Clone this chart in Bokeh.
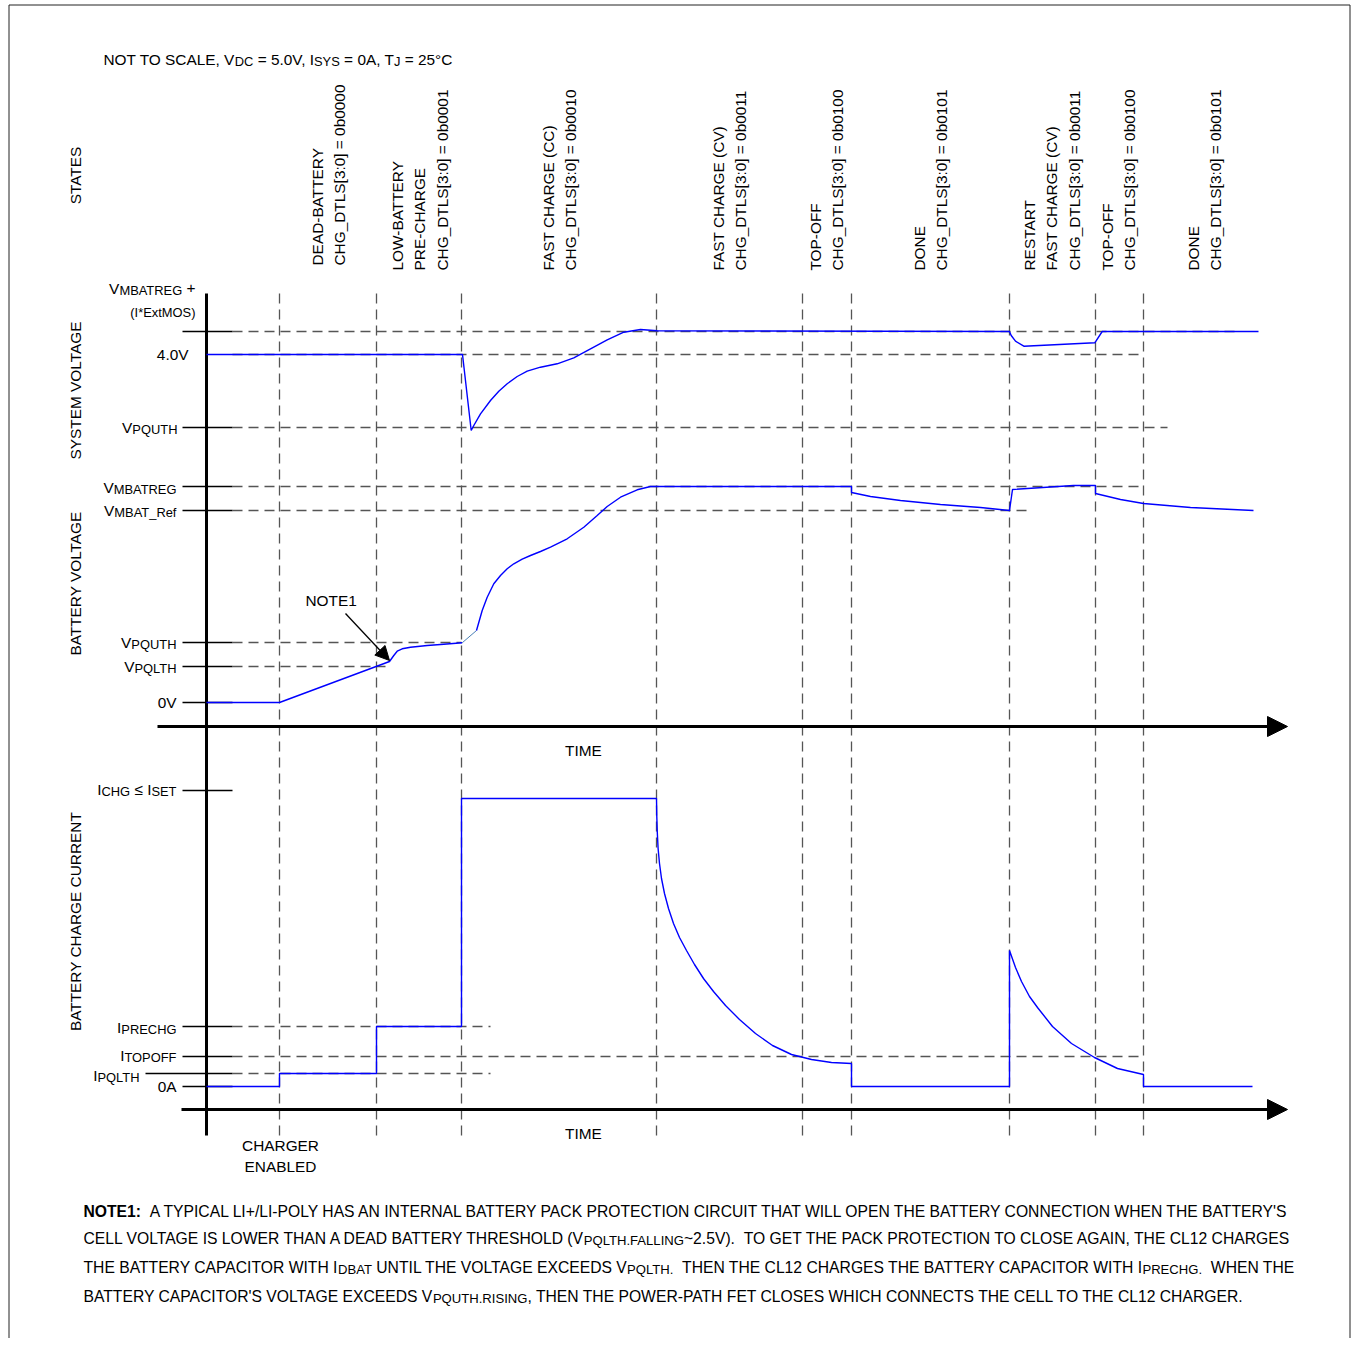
import math
from bokeh.plotting import figure
from bokeh.models import Range1d, Arrow, NormalHead, ColumnDataSource
from bokeh.core.properties import value
from bokeh.embed import file_html
from bokeh.resources import INLINE

FONT = "Liberation Sans"
MAIN = 15.4
SUB = 12.9
NOTE_MAIN = 15.7
NOTE_SUB = 13.1

# ---------------- data (schematic units, NOT TO SCALE) ----------------
# time of each state change (t = 0 on the vertical axis)
state_times = [73, 170, 255, 450, 596, 645, 803, 889, 937]

# voltage levels (0V = 0)
v_mbatreg_plus = 371
v_4v0 = 348
v_pquth_sys = 275
v_mbatreg = 216
v_mbat_ref = 192
v_pquth = 60
v_pqlth = 36
v_zero = 0

# current levels (0A = 0)
i_chg_tick = 296
i_chg = 288
i_prechg = 60
i_topoff = 30
i_pqlth = 13
i_zero = 0

# system voltage trace
sys_t = [0, 256, 264.7, 267.3, 274, 284, 292.3, 300.7, 310.7, 320.7, 334, 350.7, 367.3, 384,
         400.7, 417.3, 434, 450.7, 803, 804.7, 809, 817.3, 888.3, 895.7, 1052]
sys_v = [348, 348, 272, 277, 288.7, 302, 311.3, 318.7, 326, 331.3, 335.3, 338.7, 344.7, 353.7,
         362.7, 370.3, 373, 371.7, 371, 367, 361.3, 356.3, 359.7, 371, 371]

# battery voltage trace (before power-path closes)
bat_pre_t = [0, 73, 183, 187.3, 190.7, 195.7, 204, 220.7, 237.3, 255.7]
bat_pre_v = [0, 0, 41, 47, 51.3, 53.7, 55.3, 57, 58.3, 59.7]
# power-path closing link
bat_link_t = [255.7, 270]
bat_link_v = [59.7, 72]
# battery voltage trace (fast charge onwards)
bat_t = [270, 275.7, 280.7, 287.3, 294, 300.7, 307.3, 315.7, 324, 334, 344, 360.7, 377.3, 390.7,
         400.7, 414, 430.7, 444, 450, 645, 645, 664, 694, 734, 774, 803, 806, 867, 889, 889,
         914, 937, 984, 1047]
bat_v = [72, 92, 105.3, 118.7, 127, 133.7, 138.7, 143.3, 147, 151, 155.3, 163.7, 175.3, 187,
         196, 205.3, 212.7, 216, 216, 216, 210, 206, 202, 198, 195, 192, 213, 217, 217, 209,
         203, 199, 195, 192]

# battery charge current trace
chg_t = [0, 73, 73, 170, 170, 255, 255, 450, 450.3, 450.8, 451.6, 453, 455, 458, 462, 467, 473,
         480, 488, 497, 507, 519, 533, 549, 566, 585, 605, 625, 645, 645, 803, 803, 809, 815, 823,
         831, 846, 865, 888, 911, 937, 937, 1046]
chg_a = [0, 0, 13, 13, 60, 60, 288, 288, 270, 254, 238, 223, 208, 193, 178, 163, 149,
         136, 122, 108, 95, 81, 67, 53, 41, 32, 27, 24, 23, 0, 0, 136, 119, 105, 90,
         79, 60, 43, 29, 18, 12, 0, 0]

# dashed reference lines: (level, end time)
volt_dash_levels = [v_mbatreg_plus, v_4v0, v_pquth_sys, v_mbatreg, v_mbat_ref, v_pquth, v_pqlth]
volt_dash_ends = [1032, 934, 961, 936, 821, 255, 179]
volt_tick_levels = [v_mbatreg_plus, v_pquth_sys, v_mbatreg, v_mbat_ref, v_pquth, v_pqlth, v_zero]
amp_dash_levels = [i_prechg, i_topoff, i_pqlth]
amp_dash_ends = [284, 937, 284]
amp_tick_levels = [i_chg_tick, i_prechg, i_topoff, i_zero]

state_labels = [
    ["DEAD-BATTERY", "CHG_DTLS[3:0] = 0b0000"],
    ["LOW-BATTERY", "PRE-CHARGE", "CHG_DTLS[3:0] = 0b0001"],
    ["FAST CHARGE (CC)", "CHG_DTLS[3:0] = 0b0010"],
    ["FAST CHARGE (CV)", "CHG_DTLS[3:0] = 0b0011"],
    ["TOP-OFF", "CHG_DTLS[3:0] = 0b0100"],
    ["DONE", "CHG_DTLS[3:0] = 0b0101"],
    ["RESTART", "FAST CHARGE (CV)", "CHG_DTLS[3:0] = 0b0011"],
    ["TOP-OFF", "CHG_DTLS[3:0] = 0b0100"],
    ["DONE", "CHG_DTLS[3:0] = 0b0101"],
]

# ---------------- layout helpers ----------------
W, H = 1352, 1338
AXIS_X = 206              # page x of the vertical axis
OFF = -0.4                # text anchor offset (page px) relative to the cap centre


def Y(py):
    return H - py         # page y -> default y range


AW = {' ': 278, '!': 278, '"': 355, '#': 556, '$': 556, '%': 889, '&': 667, "'": 191, '(': 333,
      ')': 333, '*': 389, '+': 584, ',': 278, '-': 333, '.': 278, '/': 278, ':': 278, ';': 278,
      '<': 584, '=': 584, '>': 584, '?': 556, '@': 1015, '[': 278, '\\': 278, ']': 278, '^': 469,
      '_': 556, '`': 333, '~': 584, '°': 400, '≤': 549,
      'A': 667, 'B': 667, 'C': 722, 'D': 722, 'E': 667, 'F': 611, 'G': 778, 'H': 722, 'I': 278,
      'J': 500, 'K': 667, 'L': 556, 'M': 833, 'N': 722, 'O': 778, 'P': 667, 'Q': 778, 'R': 722,
      'S': 667, 'T': 611, 'U': 722, 'V': 667, 'W': 944, 'X': 667, 'Y': 667, 'Z': 611,
      'a': 556, 'b': 556, 'c': 500, 'd': 556, 'e': 556, 'f': 278, 'g': 556, 'h': 556, 'i': 222,
      'j': 222, 'k': 500, 'l': 222, 'm': 833, 'n': 556, 'o': 556, 'p': 556, 'q': 556, 'r': 333,
      's': 500, 't': 278, 'u': 556, 'v': 500, 'w': 722, 'x': 500, 'y': 500, 'z': 500}
for d in "0123456789":
    AW[d] = 556
AWB = dict(AW)
AWB.update({':': 333, 'T': 611, 'E': 667, 'N': 722, 'O': 778, '1': 556})

KERN = {'AT': -74, 'AV': -74, 'AW': -37, 'AY': -74, 'Av': -18, 'Aw': -18, 'Ay': -18,
        'F,': -111, 'F.': -111, 'FA': -55, 'LT': -74, 'LV': -74, 'LW': -74, 'LY': -74,
        'Ly': -37, 'P,': -129, 'P.': -129, 'PA': -74, 'RT': -18, 'RV': -18, 'RW': -18,
        'RY': -18, 'T,': -111, 'T-': -55, 'T.': -111, 'T:': -111, 'TA': -74, 'TO': -18,
        'V,': -92, 'V-': -55, 'V.': -92, 'VA': -74, 'W,': -55, 'W.': -55, 'WA': -37,
        'Y,': -129, 'Y-': -92, 'Y.': -129, 'YA': -74, '11': -74, ' A': -55, 'A ': -55,
        ' T': -18, ' Y': -18, 'L ': -37}


def tw(s, size, bold=False):
    tab = AWB if bold else AW
    w = sum(tab.get(c, 556) for c in s)
    w += sum(KERN.get(s[i:i + 2], 0) for i in range(len(s) - 1))
    return w * size / 1000.0


TEXTS = []   # (x, y, text, size, style, angle, align)


def add_text(x, y, text, size=MAIN, style="normal", angle=0.0, align="left"):
    TEXTS.append((x, y, text, size, style, angle, align))


def rich(x, py, parts, align="left", drop=2.6, main=MAIN, sub=SUB):
    """parts: list of (text, kind) kind n=normal, s=subscript, b=bold"""
    def sz(k):
        return sub if k == "s" else main
    widths = [tw(t, sz(k), k == "b") for t, k in parts]
    total = sum(widths)
    cx = x if align == "left" else (x - total if align == "right" else x - total / 2)
    for (t, k), w in zip(parts, widths):
        s = t.strip()
        lead = len(t) - len(t.lstrip())
        if s:
            add_text(cx + tw(t[:lead], sz(k), k == "b"),
                     Y(py + OFF + (drop if k == "s" else 0)), s,
                     size=sz(k), style="bold" if k == "b" else "normal")
        cx += w


# ---------------- figure ----------------
p = figure(width=W, height=H, x_range=Range1d(0, W), y_range=Range1d(0, H),
           output_backend="svg", toolbar_location=None, x_axis_type=None, y_axis_type=None,
           min_border=0)
p.min_border_left = p.min_border_right = p.min_border_top = p.min_border_bottom = 0
p.outline_line_color = None
p.background_fill_color = "white"
p.border_fill_color = "white"
p.grid.visible = False
p.extra_x_ranges = {"t": Range1d(-AXIS_X, W - AXIS_X)}
p.extra_y_ranges = {"volt": Range1d(-(H - 702), 702),
                    "amp": Range1d(-(H - 1086), 1086)}

# page border
p.multi_line(xs=[[8.5, 8.5, 1349.5, 1349.5]], ys=[[Y(1338), Y(4.5), Y(4.5), Y(1338)]],
             line_color="#222222", line_width=1)

DASH_C = "#555555"
DASH = "10 6"
TICK_L, TICK_R = -24, 26

# vertical dashed state lines
p.segment(x0=state_times, x1=state_times, y0=[Y(293)] * len(state_times),
          y1=[Y(1135)] * len(state_times), x_range_name="t",
          line_color=DASH_C, line_width=1.3, line_dash=DASH)

# horizontal dashed level lines
p.segment(x0=[TICK_R] * len(volt_dash_levels), x1=volt_dash_ends, y0=volt_dash_levels,
          y1=volt_dash_levels, x_range_name="t", y_range_name="volt",
          line_color=DASH_C, line_width=1.3, line_dash=DASH)
p.segment(x0=[TICK_R] * len(amp_dash_levels), x1=amp_dash_ends, y0=amp_dash_levels,
          y1=amp_dash_levels, x_range_name="t", y_range_name="amp",
          line_color=DASH_C, line_width=1.3, line_dash=DASH)

# level ticks
p.segment(x0=[TICK_L] * len(volt_tick_levels), x1=[TICK_R] * len(volt_tick_levels),
          y0=volt_tick_levels, y1=volt_tick_levels, x_range_name="t", y_range_name="volt",
          line_color="black", line_width=1.5)
p.segment(x0=[TICK_L] * len(amp_tick_levels), x1=[TICK_R] * len(amp_tick_levels),
          y0=amp_tick_levels, y1=amp_tick_levels, x_range_name="t", y_range_name="amp",
          line_color="black", line_width=1.5)
p.segment(x0=[-61], x1=[TICK_R], y0=[i_pqlth], y1=[i_pqlth], x_range_name="t",
          y_range_name="amp", line_color="black", line_width=1.5)

# vertical axis
p.segment(x0=[0], x1=[0], y0=[Y(293)], y1=[Y(1135)], x_range_name="t",
          line_color="black", line_width=3)

# time axes with arrows
p.add_layout(Arrow(x_start=-49, y_start=-24, x_end=1081, y_end=-24, x_range_name="t",
                   y_range_name="volt", line_width=3, line_color="black",
                   end=NormalHead(size=20, fill_color="black", line_color="black", line_width=1)))
p.add_layout(Arrow(x_start=-25, y_start=-23, x_end=1081, y_end=-23, x_range_name="t",
                   y_range_name="amp", line_width=3, line_color="black",
                   end=NormalHead(size=20, fill_color="black", line_color="black", line_width=1)))

# traces
BLUE = "#0000ff"
p.line(sys_t, sys_v, x_range_name="t", y_range_name="volt", line_color=BLUE, line_width=1.4)
p.line(bat_pre_t, bat_pre_v, x_range_name="t", y_range_name="volt", line_color=BLUE,
       line_width=1.4)
p.line(bat_link_t, bat_link_v, x_range_name="t", y_range_name="volt", line_color="#4a7fb5",
       line_width=1.0)
p.line(bat_t, bat_v, x_range_name="t", y_range_name="volt", line_color=BLUE, line_width=1.4)
p.line(chg_t, chg_a, x_range_name="t", y_range_name="amp", line_color=BLUE, line_width=1.4)

# NOTE1 arrow
p.add_layout(Arrow(x_start=139, y_start=89, x_end=183, y_end=42, x_range_name="t",
                   y_range_name="volt", line_width=1.3, line_color="black",
                   end=NormalHead(size=14, fill_color="black", line_color="black", line_width=1)))

# ---------------- texts (page positions = cap centres) ----------------
rich(103, 59, [("NOT TO SCALE, V", "n"), ("DC", "s"), (" = 5.0V, I", "n"), ("SYS", "s"),
               (" = 0A, T", "n"), ("J", "s"), (" = 25°C", "n")])

# rotated panel titles
for txt, cy in [("STATES", 175), ("SYSTEM VOLTAGE", 390), ("BATTERY VOLTAGE", 583),
                ("BATTERY CHARGE CURRENT", 921)]:
    add_text(75 + OFF, Y(cy), txt, angle=math.pi / 2, align="center")

# state labels (rotated)
state_x = [317, 397, 548, 718, 815, 919, 1029, 1107, 1193]
state_bottom = [265, 270, 270, 270, 270, 270, 270, 270, 270]
for lines, bx, by in zip(state_labels, state_x, state_bottom):
    for k, ln in enumerate(lines):
        add_text(bx + OFF + 22.6 * k, Y(by), ln, angle=math.pi / 2, align="left")

# level labels
rich(195, 288, [("V", "n"), ("MBATREG", "s"), (" +", "n")], align="right")
add_text(195, Y(312 + OFF), "(I*ExtMOS)", size=SUB, align="right")
add_text(188, Y(354 + OFF), "4.0V", align="right")
rich(177, 427, [("V", "n"), ("PQUTH", "s")], align="right")
rich(176, 487, [("V", "n"), ("MBATREG", "s")], align="right")
rich(176, 510, [("V", "n"), ("MBAT_Ref", "s")], align="right")
rich(176, 642, [("V", "n"), ("PQUTH", "s")], align="right")
rich(176, 666, [("V", "n"), ("PQLTH", "s")], align="right")
add_text(176, Y(702 + OFF), "0V", align="right")
rich(176, 789, [("I", "n"), ("CHG", "s"), (" ≤ ", "n"), ("I", "n"), ("SET", "s")], align="right")
rich(176, 1027, [("I", "n"), ("PRECHG", "s")], align="right")
rich(176, 1055, [("I", "n"), ("TOPOFF", "s")], align="right")
rich(139, 1075, [("I", "n"), ("PQLTH", "s")], align="right")
add_text(176, Y(1086 + OFF), "0A", align="right")

add_text(305, Y(600 + OFF), "NOTE1")
add_text(583, Y(750 + OFF), "TIME", align="center")
add_text(583, Y(1133 + OFF), "TIME", align="center")
add_text(280, Y(1145 + OFF), "CHARGER", align="center")
add_text(280, Y(1166 + OFF), "ENABLED", align="center")

# footnote
NK = dict(main=NOTE_MAIN, sub=NOTE_SUB)
rich(83, 1211, [("NOTE1:", "b"), ("  A TYPICAL LI+/LI-POLY HAS AN INTERNAL BATTERY PACK PROTECTION "
                                  "CIRCUIT THAT WILL OPEN THE BATTERY CONNECTION WHEN THE BATTERY'S", "n")],
     **NK)
rich(83, 1238, [("CELL VOLTAGE IS LOWER THAN A DEAD BATTERY THRESHOLD (V", "n"), ("PQLTH.FALLING", "s"),
                ("~2.5V).", "n"), ("  TO GET THE PACK PROTECTION TO CLOSE AGAIN, THE CL12 CHARGES", "n")],
     **NK)
rich(83, 1267, [("THE BATTERY CAPACITOR WITH I", "n"), ("DBAT", "s"),
                (" UNTIL THE VOLTAGE EXCEEDS V", "n"), ("PQLTH.", "s"),
                ("  THEN THE CL12 CHARGES THE BATTERY CAPACITOR WITH I", "n"), ("PRECHG.", "s"),
                ("  WHEN THE", "n")], **NK)
rich(83, 1296, [("BATTERY CAPACITOR'S VOLTAGE EXCEEDS V", "n"), ("PQUTH.RISING", "s"),
                (", THEN THE POWER-PATH FET CLOSES WHICH CONNECTS THE CELL TO THE CL12 CHARGER.", "n")],
     **NK)

# render texts grouped by style
groups = {}
for x, y, t, size, style, angle, align in TEXTS:
    groups.setdefault((size, style, angle, align), []).append((x, y, t))
for (size, style, angle, align), items in groups.items():
    src = ColumnDataSource(dict(x=[i[0] for i in items], y=[i[1] for i in items],
                                text=[i[2] for i in items]))
    p.text(x="x", y="y", text="text", source=src, text_font=value(FONT),
           text_font_size=value(f"{size}px"), text_font_style=style, angle=angle,
           text_align=align, text_baseline="alphabetic", text_color="black")

open("out.html", "w").write(file_html(p, INLINE))
